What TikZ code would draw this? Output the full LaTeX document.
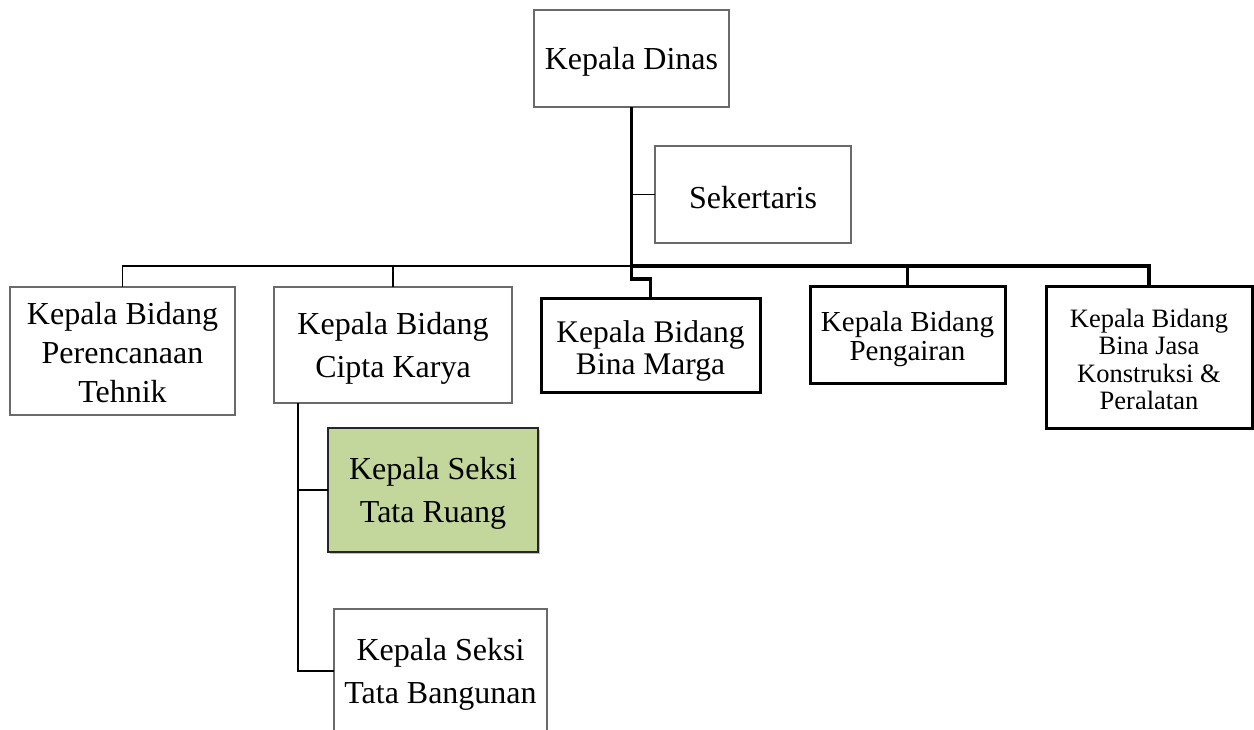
\documentclass[tikz,border=0pt]{standalone}
\usepackage{fontspec}
\setmainfont{Liberation Serif}
\usetikzlibrary{calc}
\definecolor{boxgray}{HTML}{6A6A6A}
\definecolor{seksigreen}{HTML}{C3D69B}
\begin{document}
\begin{tikzpicture}[x=1pt,y=-1pt,
  % box outlines; the caption is set as a centred label slightly below the middle
  unitbox/.style={draw=boxgray,line width=1.3pt,fill=white,inner sep=0pt,outer sep=0pt},
  boldbox/.style={draw=black,line width=3pt,fill=white,inner sep=0pt,outer sep=0pt},
  greenbox/.style={draw=black!85,line width=2pt,fill=seksigreen,inner sep=0pt,outer sep=0pt},
  caption/.style={label={[align=center,inner sep=0pt,yshift=-3pt,font=\fontsize{32}{43}\selectfont]center:#1}},
  caption3/.style={label={[align=center,inner sep=0pt,yshift=-2pt,font=\fontsize{32}{39}\selectfont]center:#1}},
  captionbm/.style={label={[align=center,inner sep=0pt,yshift=-5pt,font=\fontsize{31.5}{32}\selectfont]center:#1}},
  captionpg/.style={label={[align=center,inner sep=0pt,yshift=-4pt,font=\fontsize{29}{29}\selectfont]center:#1}},
  captionbj/.style={label={[align=center,inner sep=0pt,yshift=-2pt,font=\fontsize{26.5}{27.5}\selectfont]center:#1}},
  thinline/.style={draw=black,line width=1.4pt},
  thickline/.style={draw=black,line width=3.5pt},
]
\useasboundingbox (0,0) rectangle (1254,730);
\clip (0,0) rectangle (1254,730);

% head of office and secretary
\node[unitbox,minimum width=195,minimum height=97,caption={Kepala Dinas}] (kd) at (631.5,58.5) {};
\node[unitbox,minimum width=196,minimum height=97,caption={Sekertaris}] (sk) at (753,194.5) {};

% heads of division
\node[unitbox,minimum width=225,minimum height=128,
  caption3={Kepala Bidang\\Perencanaan\\Tehnik}] (pt) at (122.5,351) {};
\node[unitbox,minimum width=238,minimum height=116,
  caption={Kepala Bidang\\Cipta Karya}] (ck) at (393,345) {};
\node[boldbox,minimum width=219,minimum height=93,
  captionbm={Kepala Bidang\\Bina Marga}] (bm) at (650.5,345.5) {};
\node[boldbox,minimum width=195,minimum height=96,
  captionpg={Kepala Bidang\\Pengairan}] (pg) at (907.5,335) {};
\node[boldbox,minimum width=206,minimum height=141,
  captionbj={Kepala Bidang\\Bina Jasa\\Konstruksi \&\\Peralatan}] (bj) at (1149,357.5) {};

% sections under Cipta Karya (the green one casts a faint shadow)
\fill[black!25] (329.5,429.5) rectangle (540,554);
\node[greenbox,minimum width=210,minimum height=124,
  caption={Kepala Seksi\\Tata Ruang}] (tr) at (433,490) {};
\node[unitbox,minimum width=213,minimum height=124,
  caption={Kepala Seksi\\Tata Bangunan}] (tb) at (440.5,671) {};

% trunk and bus
\coordinate (bus) at (kd.south |- 0,266);
\coordinate (jog) at (kd.south |- 0,279);
\draw[thinline] (kd.south |- sk.west) -- (sk.west);
\draw[thinline] (bus) -| (pt.north);
\draw[thinline] (bus) -| (ck.north);
\draw[thickline] (bus) -| (pg.north);
\draw[thickline] (bus) -| (bj.north);
\draw[thickline] (kd.south) -- (jog) -| (bm.north);

% sections
\coordinate (ckd) at ($(ck.south west)+(24,0)$);
\draw[thinline] (ckd) |- (tr.west);
\draw[thinline] (ckd) |- (tb.west);
\end{tikzpicture}
\end{document}
